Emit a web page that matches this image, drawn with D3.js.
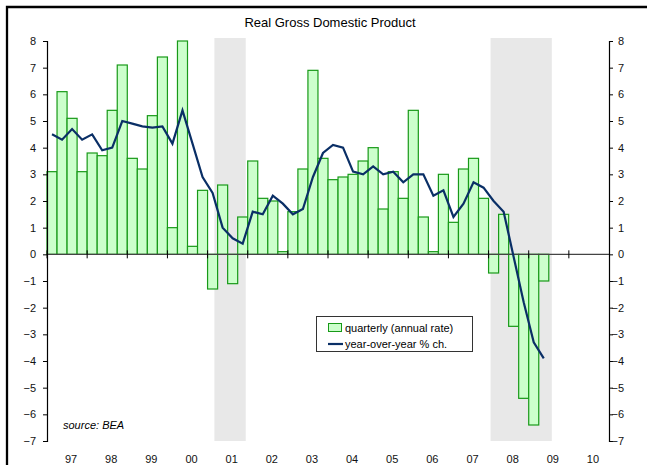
<!DOCTYPE html>
<html>
<head>
<meta charset="utf-8">
<script src="https://cdn.jsdelivr.net/npm/d3@7"></script>
<style>
  body { margin: 0; background: #fff; }
  svg { display: block; font-family: "Liberation Sans", Arial, sans-serif; }
</style>
</head>
<body>
<div id="chart"></div>
<script>
// quarters 1997Q1 .. 2009Q2
let years = [1997, 1998, 1999, 2000, 2001, 2002, 2003, 2004, 2005, 2006, 2007, 2008, 2009, 2010]
let yearLabels = ['97', '98', '99', '00', '01', '02', '03', '04', '05', '06', '07', '08', '09', '10']
let quarterly = [
    3.1, 6.1, 5.1, 3.1,
    3.8, 3.7, 5.4, 7.1,
    3.6, 3.2, 5.2, 7.4,
    1.0, 8.0, 0.3, 2.4,
    -1.3, 2.6, -1.1, 1.4,
    3.5, 2.1, 2.0, 0.1,
    1.6, 3.2, 6.9, 3.6,
    2.8, 2.9, 3.0, 3.5,
    4.0, 1.7, 3.1, 2.1,
    5.4, 1.4, 0.1, 3.0,
    1.2, 3.2, 3.6, 2.1,
    -0.7, 1.5, -2.7, -5.4,
    -6.4, -1.0
]
let yoy = [
    4.5, 4.3, 4.7, 4.3,
    4.5, 3.9, 4.0, 5.0,
    4.9, 4.8, 4.75, 4.8,
    4.15, 5.4, 4.15, 2.9,
    2.3, 1.0, 0.6, 0.4,
    1.6, 1.5, 2.2, 1.9,
    1.5, 1.7, 2.9, 3.8,
    4.1, 4.0, 3.1, 3.0,
    3.3, 3.0, 3.1, 2.7,
    3.0, 3.0, 2.2, 2.4,
    1.4, 1.9, 2.7, 2.5,
    2.0, 1.6, -0.1, -1.8,
    -3.3, -3.9
]
let yTicks = [8, 7, 6, 5, 4, 3, 2, 1, 0, -1, -2, -3, -4, -5, -6, -7]
// recession shading, in fractional years
let recessions = [[2001.17, 2001.95], [2008.05, 2009.575]]

window.onload = function() {
    drawChart();
}

function drawChart () {
    let svg = d3.select('#chart')
        .append('svg')
        .attr('width', 647)
        .attr('height', 465);

    let x = d3.scaleLinear().domain([1997, 2011]).range([47, 609]);
    let y = d3.scaleLinear().domain([-7, 8]).range([441, 41]);
    let qStart = i => 1997 + i / 4;

    //frame (only top and left show in the crop)
    svg.append('path')
        .attr('d', 'M7 470 V7 H660')
        .attr('fill', 'none')
        .attr('stroke', 'black')
        .attr('stroke-width', 2.3);

    //title
    svg.append('text')
        .attr('x', 330)
        .attr('y', 27)
        .attr('text-anchor', 'middle')
        .attr('font-size', 13)
        .text('Real Gross Domestic Product');

    //recession bands
    svg.selectAll('.rec')
        .data(recessions)
        .enter()
        .append('rect')
        .attr('x', d => x(d[0]))
        .attr('width', d => x(d[1]) - x(d[0]))
        .attr('y', 38)
        .attr('height', 441 - 38)
        .attr('fill', '#e8e8e8');

    //bars
    svg.selectAll('.bar')
        .data(quarterly)
        .enter()
        .append('rect')
        .attr('x', (d, i) => x(qStart(i)))
        .attr('width', (d, i) => x(qStart(i + 1)) - x(qStart(i)))
        .attr('y', d => y(Math.max(0, d)))
        .attr('height', d => Math.abs(y(d) - y(0)))
        .attr('fill', '#ccffcc')
        .attr('stroke', '#189a18')
        .attr('stroke-width', 1.2);

    //zero line with year ticks
    svg.append('line')
        .attr('x1', x(1997))
        .attr('x2', x(2011))
        .attr('y1', y(0))
        .attr('y2', y(0))
        .attr('stroke', '#444')
        .attr('stroke-width', 1.3);
    svg.selectAll('.ytick0')
        .data(years)
        .enter()
        .append('line')
        .attr('x1', d => x(d))
        .attr('x2', d => x(d))
        .attr('y1', y(0) - 4)
        .attr('y2', y(0) + 4)
        .attr('stroke', 'black');

    //left and right axes
    let left = d3.axisLeft(y).tickValues(yTicks).tickSize(4).tickPadding(7);
    let right = d3.axisRight(y).tickValues(yTicks).tickSize(4).tickPadding(4);
    svg.append('g')
        .attr('transform', 'translate(' + x(1997) + ',0)')
        .call(left);
    let rg = svg.append('g')
        .attr('transform', 'translate(' + x(2011) + ',0)')
        .call(right);
    // right labels are right aligned
    rg.selectAll('text').attr('text-anchor', 'end').attr('x', 15);
    svg.selectAll('.domain').attr('stroke', 'black').attr('stroke-width', 1.2);
    svg.selectAll('.tick text')
        .attr('font-size', 11)
        .attr('fill', '#111')
        .attr('font-family', '"Liberation Sans", Arial, sans-serif');

    //year labels
    svg.selectAll('.yl')
        .data(years)
        .enter()
        .append('text')
        .attr('x', (d) => x(d + 0.5) + 4)
        .attr('y', 463)
        .attr('text-anchor', 'middle')
        .attr('font-size', 11)
        .attr('fill', '#111')
        .text((d, i) => yearLabels[i]);

    //yoy line
    let line = d3.line()
        .x((d, i) => x(qStart(i) + 0.125))
        .y(d => y(d));
    svg.append('path')
        .datum(yoy)
        .attr('d', line)
        .attr('fill', 'none')
        .attr('stroke', '#0a2f66')
        .attr('stroke-width', 2.2);

    //source
    svg.append('text')
        .attr('x', 63)
        .attr('y', 429)
        .attr('font-size', 11)
        .attr('font-style', 'italic')
        .text('source: BEA');

    //legend
    svg.append('rect')
        .attr('x', 316.5)
        .attr('y', 316.5)
        .attr('width', 156)
        .attr('height', 35)
        .attr('fill', 'white')
        .attr('stroke', '#333');
    svg.append('rect')
        .attr('x', 328.5)
        .attr('y', 323.5)
        .attr('width', 13)
        .attr('height', 8)
        .attr('fill', '#ccffcc')
        .attr('stroke', '#189a18');
    svg.append('text')
        .attr('x', 345)
        .attr('y', 332)
        .attr('font-size', 11)
        .text('quarterly (annual rate)');
    svg.append('line')
        .attr('x1', 328)
        .attr('x2', 343)
        .attr('y1', 344)
        .attr('y2', 344)
        .attr('stroke', '#0a2f66')
        .attr('stroke-width', 2.2);
    svg.append('text')
        .attr('x', 345)
        .attr('y', 348)
        .attr('font-size', 11)
        .text('year-over-year % ch.');
}
</script>
</body>
</html>
